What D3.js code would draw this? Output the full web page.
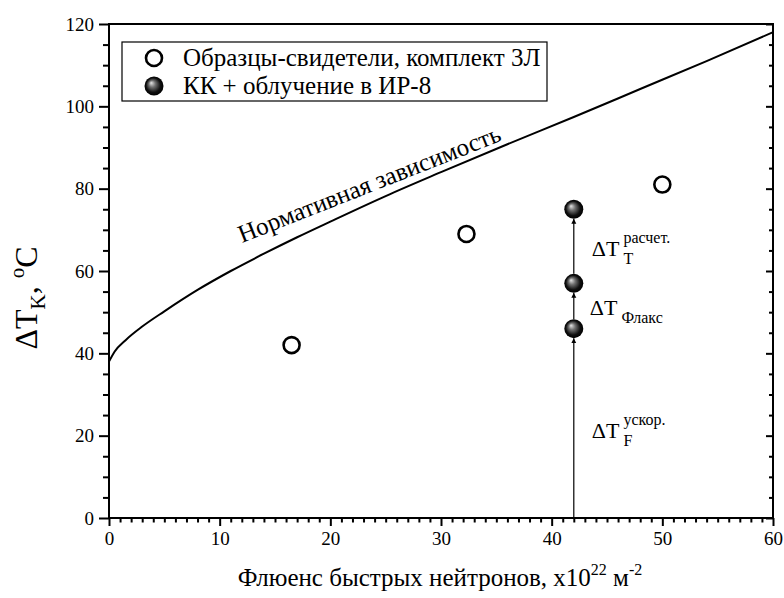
<!DOCTYPE html>
<html>
<head>
<meta charset="utf-8">
<script src="https://cdn.jsdelivr.net/npm/d3@7"></script>
<style>
  html, body { margin: 0; padding: 0; background: #fff; }
  svg { display: block; }
  text { font-family: "Liberation Serif", "Times New Roman", serif; fill: #000; }
</style>
</head>
<body>
<svg id="chart" width="784" height="598"></svg>
<script>
// Normative curve: fluence (x10^22 m^-2) vs shift of transition temperature (°C)
const normFluence = [0, 0.5, 1.5, 3, 5, 8, 11, 14, 17, 20, 25, 30, 36, 42, 48, 54, 60];
const normShift   = [38, 40.4, 43.2, 46.5, 50.2, 55.4, 60.0, 64.2, 68.2, 72.0, 78.2, 84.0, 90.8, 97.4, 104.2, 111.0, 118];

// Surveillance specimens, set 3Л
const witnessFluence = [16.5, 32.3, 50.0];
const witnessShift   = [42, 69, 81];

// KK + irradiation in IR-8 (stacked contributions at one fluence)
const kkFluence = [42, 42, 42];
const kkShift   = [46, 57, 75];

const xTicks = [0, 10, 20, 30, 40, 50, 60];
const yTicks = [0, 20, 40, 60, 80, 100, 120];

const legendLabels = ["Образцы-свидетели, комплект 3Л", "КК + облучение в ИР-8"];
const curveLabel = "Нормативная зависимость";

const svg = d3.select("#chart");
const x = d3.scaleLinear().domain([0, 60]).range([109, 773]);
const y = d3.scaleLinear().domain([0, 120]).range([518, 24]);

// gradient for the shaded balls
const defs = svg.append("defs");
const grad = defs.append("radialGradient").attr("id", "ball")
  .attr("cx", "50%").attr("cy", "50%").attr("r", "50%")
  .attr("fx", "35%").attr("fy", "33%");
grad.append("stop").attr("offset", "0%").attr("stop-color", "#e6e6e6");
grad.append("stop").attr("offset", "35%").attr("stop-color", "#707070");
grad.append("stop").attr("offset", "75%").attr("stop-color", "#101010");
grad.append("stop").attr("offset", "100%").attr("stop-color", "#000");

defs.append("marker").attr("id", "arrow")
  .attr("viewBox", "0 0 10 10").attr("refX", 10).attr("refY", 5)
  .attr("markerWidth", 5).attr("markerHeight", 8)
  .attr("markerUnits", "userSpaceOnUse")
  .attr("orient", "auto")
  .append("path").attr("d", "M0,0 L10,5 L0,10 Z").attr("fill", "#000");

// frame
svg.append("rect")
  .attr("x", x(0)).attr("y", y(120))
  .attr("width", x(60) - x(0)).attr("height", y(0) - y(120))
  .attr("fill", "none").attr("stroke", "#000").attr("stroke-width", 2);

// axes
const xAxis = d3.axisBottom(x).tickValues(xTicks).tickSize(8).tickPadding(6).tickFormat(d3.format("d"));
const xMinor = d3.axisBottom(x).tickValues(d3.range(0, 61, 1).filter(v => v % 10 !== 0)).tickSize(4.5).tickFormat("");
const yAxis = d3.axisLeft(y).tickValues(yTicks).tickSize(10).tickPadding(5).tickFormat(d3.format("d"));
const yMinor = d3.axisLeft(y).tickValues(d3.range(0, 121, 5).filter(v => v % 20 !== 0)).tickSize(6).tickFormat("");
const rMajor = d3.axisLeft(y).tickValues(yTicks).tickSize(7).tickFormat("");
const rMinor = d3.axisLeft(y).tickValues(d3.range(0, 121, 5).filter(v => v % 20 !== 0)).tickSize(4).tickFormat("");

function styleAxis(g) {
  g.attr("font-family", null);
  g.select(".domain").remove();
  g.selectAll("line").attr("stroke", "#000").attr("stroke-width", 2);
  g.selectAll("text").attr("font-size", 19);
}
svg.append("g").attr("transform", `translate(0,${y(0)})`).call(xAxis).call(styleAxis);
svg.append("g").attr("transform", `translate(0,${y(0)})`).call(xMinor).call(styleAxis);
svg.append("g").attr("transform", `translate(${x(0)},0)`).call(yAxis).call(styleAxis);
svg.append("g").attr("transform", `translate(${x(0)},0)`).call(yMinor).call(styleAxis);
svg.append("g").attr("transform", `translate(${x(60)},0)`).call(rMajor).call(styleAxis);
svg.append("g").attr("transform", `translate(${x(60)},0)`).call(rMinor).call(styleAxis);

// normative curve
const normData = normFluence.map((f, i) => [f, normShift[i]]);
svg.append("path").datum(normData)
  .attr("d", d3.line().x(d => x(d[0])).y(d => y(d[1])).curve(d3.curveMonotoneX))
  .attr("fill", "none").attr("stroke", "#000").attr("stroke-width", 2);

// label along the curve
svg.append("text")
  .attr("transform", `translate(242,243) rotate(-21.5)`)
  .attr("font-size", 25)
  .text(curveLabel);

// arrows between stacked contributions
const R = 9.5;
const levels = [0].concat(kkShift);
levels.slice(1).forEach((v, i) => {
  const from = levels[i];
  svg.append("line")
    .attr("x1", x(kkFluence[i])).attr("x2", x(kkFluence[i]))
    .attr("y1", from === 0 ? y(0) : y(from) - R)
    .attr("y2", y(v) + R)
    .attr("stroke", "#000").attr("stroke-width", 1.2)
    .attr("marker-end", "url(#arrow)");
});

// surveillance specimens
svg.append("g").selectAll("circle")
  .data(witnessFluence.map((f, i) => [f, witnessShift[i]]))
  .join("circle")
  .attr("cx", d => x(d[0])).attr("cy", d => y(d[1])).attr("r", 8)
  .attr("fill", "#fff").attr("stroke", "#000").attr("stroke-width", 2.6);

// KK balls
svg.append("g").selectAll("circle")
  .data(kkFluence.map((f, i) => [f, kkShift[i]]))
  .join("circle")
  .attr("cx", d => x(d[0])).attr("cy", d => y(d[1])).attr("r", R)
  .attr("fill", "url(#ball)");

// component labels
function deltaLabel(px, py, sup, sub) {
  const t = svg.append("text").attr("x", px).attr("y", py).attr("font-size", 22);
  t.append("tspan").text("ΔT");
  const base = t.node().getComputedTextLength();
  if (sup) {
    svg.append("text").attr("x", px + base + 4).attr("y", py - 13).attr("font-size", 16).text(sup);
  }
  if (sub) {
    svg.append("text").attr("x", px + base + 4).attr("y", py + 8).attr("font-size", 16).text(sub);
  }
}
deltaLabel(x(42) + 18, 438, "ускор.", "F");
deltaLabel(x(42) + 16, 315, null, "Флакс");
deltaLabel(x(42) + 18, 256, "расчет.", "T");

// legend
svg.append("rect").attr("x", 122).attr("y", 42).attr("width", 425).attr("height", 59)
  .attr("fill", "#fff").attr("stroke", "#000").attr("stroke-width", 1.2);
svg.append("circle").attr("cx", 154).attr("cy", 58).attr("r", 8)
  .attr("fill", "#fff").attr("stroke", "#000").attr("stroke-width", 2.6);
svg.append("circle").attr("cx", 154).attr("cy", 86).attr("r", R)
  .attr("fill", "url(#ball)");
legendLabels.forEach((s, i) => {
  svg.append("text").attr("x", 183).attr("y", 66 + i * 28).attr("font-size", 25).text(s);
});

// axis titles
const xt = svg.append("text").attr("x", 440).attr("y", 586).attr("text-anchor", "middle").attr("font-size", 25);
xt.append("tspan").text("Флюенс быстрых нейтронов, x10");
xt.append("tspan").attr("font-size", 16).attr("dy", -11).text("22");
xt.append("tspan").attr("dy", 11).text(" м");
xt.append("tspan").attr("font-size", 16).attr("dy", -11).text("-2");

const yt = svg.append("text").attr("transform", "translate(37,298) rotate(-90)")
  .attr("text-anchor", "middle").attr("font-size", 32);
yt.append("tspan").text("ΔT");
yt.append("tspan").attr("font-size", 21).attr("dy", 8).text("K");
yt.append("tspan").attr("dy", -8).text(", ");
yt.append("tspan").attr("font-size", 21).attr("dy", -13).text("o");
yt.append("tspan").attr("dy", 13).text("C");
</script>
</body>
</html>
